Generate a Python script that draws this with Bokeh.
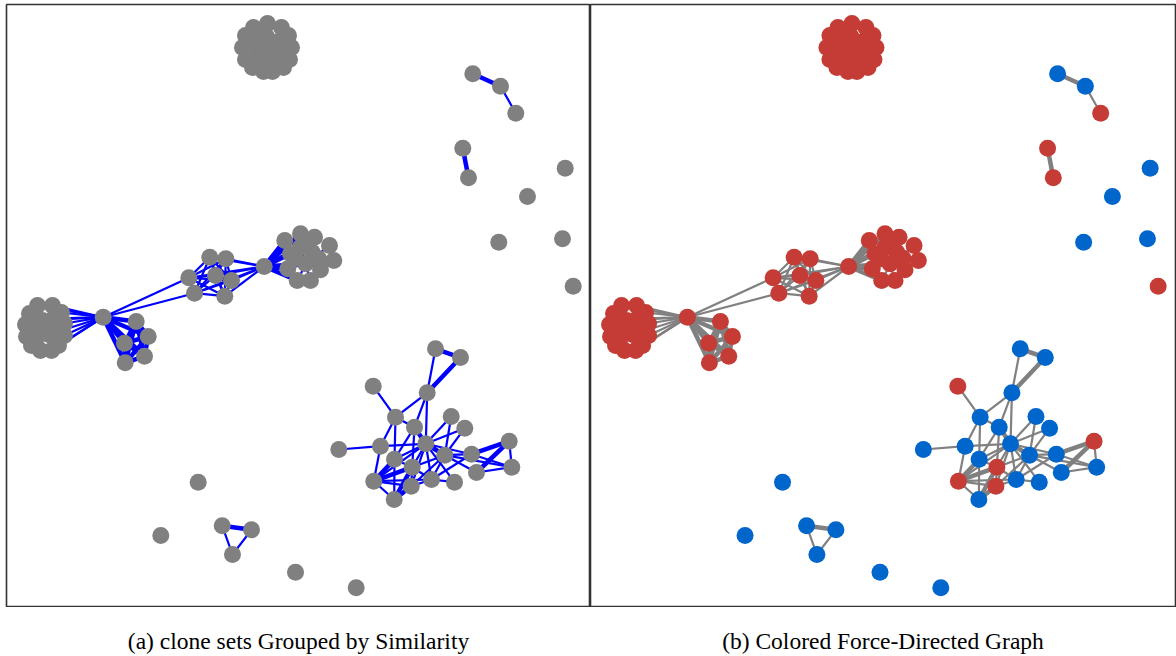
from bokeh.plotting import figure
from bokeh.models import ColumnDataSource, Range1d
from bokeh.layouts import row, column
from bokeh.embed import file_html
from bokeh.resources import INLINE

# ---------------- data ----------------
# node positions (left-panel pixel coordinates)
top_names = ["t%d" % i for i in range(24)]
top_x = [267, 253, 281, 245, 288, 242, 291, 245, 289, 252, 263, 272, 283, 266, 257, 276,
         258, 274, 266, 266, 255, 278, 252, 280]
top_y = [23, 27, 27, 35, 35, 47, 47, 59, 59, 67, 71, 71, 67, 46, 41, 52,
         50, 42, 58, 36, 57, 60, 40, 40]
top_cls = ["red"] * 24

left_names = ["l%d" % i for i in range(21)]
left_x = [37, 52, 29, 61, 25, 64, 26, 64, 31, 58, 40, 51, 42, 48, 37, 53,
          45, 35, 55, 33, 56]
left_y = [305, 305, 313, 312, 324, 323, 336, 335, 345, 345, 350, 350, 320, 334, 331, 318,
          327, 340, 340, 318, 326]
left_cls = ["red"] * 21

hub_names = ["h1", "h2"]
hub_x = [102.7, 263.7]
hub_y = [316.7, 266]
hub_cls = ["red", "red"]

small_names = ["s0", "s1", "s2", "s3", "s4"]
small_x = [135.7, 147.7, 124, 144, 124.7]
small_y = [321, 336, 342.7, 355.7, 362.3]
small_cls = ["red"] * 5

mid_names = ["m0", "m1", "m2", "m3", "m4", "m5", "m6"]
mid_x = [209.3, 225.3, 188.3, 215, 231, 194, 224.3]
mid_y = [256.7, 258.3, 277.3, 275, 280, 292.7, 295.7]
mid_cls = ["red"] * 7

right_names = ["r%d" % i for i in range(16)]
right_x = [284.3, 300, 314, 329, 333.3, 320, 310, 296.7, 287.3, 300, 311.7, 305, 290,
           295, 318, 305]
right_y = [240, 233.3, 236.7, 245, 260, 269.3, 280, 280, 268.3, 246.7, 251.7, 263.3, 253.3,
           258, 258, 240]
right_cls = ["red"] * 16

misc_names = ["p0", "p1", "p2", "q0", "q1", "u0", "u1", "u2", "u3", "u4",
              "u5", "u6", "u7", "u8", "v0", "v1", "v2"]
misc_x = [472.3, 500, 515.3, 462.3, 468, 564.7, 527, 498.3, 562, 572.7,
          197.7, 160.3, 295, 355.7, 221.7, 251, 232]
misc_y = [73.3, 85.7, 112.7, 147.7, 177.3, 167.7, 196, 241.7, 238.3, 285.7,
          481.7, 535, 571.7, 587.3, 525.3, 529.3, 554]
misc_cls = ["blue", "blue", "red", "red", "red", "blue", "blue", "blue", "blue", "red",
            "blue", "blue", "blue", "blue", "blue", "blue", "blue"]

net_names = list("ABCDEFGHIJKLMNOPQRSTUVW")
net_x = [435, 460, 372.7, 426.7, 395, 450.7, 414, 464.3, 338.3, 380, 425.3, 508.7,
         394, 444.3, 471, 411.7, 511.3, 476, 373.3, 431, 454, 410.7, 393.7]
net_y = [348.3, 357, 385.7, 392.3, 416.7, 416, 426.7, 427.7, 449, 445.7, 443.3, 440.7,
         458.7, 454.7, 453.7, 466.7, 466.7, 472, 480.7, 479, 481.7, 485.7, 499]
net_cls = ["blue", "blue", "red", "blue", "blue", "blue", "blue", "blue", "blue", "blue",
           "blue", "red", "blue", "blue", "blue", "red", "blue", "blue", "red", "blue",
           "blue", "red", "blue"]

# edges: "a-b" pairs with a weight
thin_edges = [
    # left cluster and its hub
    "l12-l13", "l14-l13", "l12-l14", "l15-l13", "l2-l13", "l6-l12", "l12-l4",
    "h1-l0", "h1-l1", "h1-l3", "h1-l5", "h1-l7", "h1-l9", "h1-l11", "h1-l15",
    "h1-l13", "h1-l12",
    "h1-m2", "h1-m5",
    # middle cluster
    "m0-m1", "m0-m2", "m0-m3", "m0-m4", "m0-m5", "m0-m6", "m1-m2", "m1-m3", "m1-m4",
    "m1-m5", "m1-m6", "m2-m3", "m2-m4", "m2-m5", "m2-m6", "m3-m4", "m3-m5", "m3-m6",
    "m4-m5", "m4-m6", "m5-m6",
    "h2-m0", "h2-m1", "h2-m2", "h2-m3", "h2-m4", "h2-m5", "h2-m6",
    # right cluster
    "r0-r9", "r9-r10", "r10-r11", "r11-r8", "r8-r12", "r12-r0", "r1-r10", "r2-r11",
    "r3-r11", "r4-r10", "r5-r12", "r6-r9", "r7-r10",
    # misc
    "p1-p2", "v0-v2", "v1-v2",
    # bottom-right network
    "A-D", "C-E", "D-E", "D-G", "D-K", "E-J", "E-M", "G-M", "G-P", "F-K", "F-N",
    "H-K", "H-N", "J-I", "J-K", "J-S", "K-M", "K-O", "K-P", "K-T", "K-U", "K-V",
    "K-S", "N-O", "O-Q", "L-Q", "R-Q", "N-Q", "S-V", "S-W", "S-T", "M-P", "M-W",
    "P-V", "P-T", "P-N", "V-T", "V-N", "T-U", "T-N", "N-R", "T-O", "E-G",
]
thick_edges = [
    "h1-s0", "h1-s1", "h1-s2", "h1-s3", "h1-s4",
    "s0-s1", "s0-s2", "s0-s3", "s0-s4", "s1-s2", "s1-s3", "s1-s4", "s2-s3",
    "s2-s4", "s3-s4",
    "h2-r0", "h2-r1", "h2-r8", "h2-r12", "h2-r9", "h2-r11", "h2-r7",
    "p0-p1", "q0-q1", "v0-v1",
    "A-B", "B-D", "G-K", "K-N", "O-L", "L-R", "S-M", "S-P", "V-W", "W-P",
]

captions = ["(a) clone sets Grouped by Similarity", "(b) Colored Force-Directed Graph"]

# ---------------- build sources ----------------
names = top_names + left_names + hub_names + small_names + mid_names + right_names + misc_names + net_names
xs = top_x + left_x + hub_x + small_x + mid_x + right_x + misc_x + net_x
ys = top_y + left_y + hub_y + small_y + mid_y + right_y + misc_y + net_y
cls = top_cls + left_cls + hub_cls + small_cls + mid_cls + right_cls + misc_cls + net_cls
pos = {n: (x, y) for n, x, y in zip(names, xs, ys)}

RED = "#c43c35"
BLUE = "#0066cc"
GRAY = "#808080"

x0, y0, x1, y1, w = [], [], [], [], []
for lst, wt in ((thin_edges, 2.2), (thick_edges, 4.5)):
    for e in lst:
        a, b = e.split("-")
        x0.append(pos[a][0]); y0.append(pos[a][1])
        x1.append(pos[b][0]); y1.append(pos[b][1])
        w.append(wt)

edge_src = ColumnDataSource(dict(x0=x0, y0=y0, x1=x1, y1=y1, w=w))
node_src = ColumnDataSource(dict(
    x=xs, y=ys,
    gray=[GRAY] * len(xs),
    col=[RED if c == "red" else BLUE for c in cls],
))


def bare(p):
    p.axis.visible = False
    p.grid.visible = False
    p.background_fill_color = "white"
    p.border_fill_color = "white"


def panel(edge_color, node_field, left_border, right_border, width):
    p = figure(width=width, height=607, output_backend="svg", toolbar_location=None,
               x_range=Range1d(6, 590), y_range=Range1d(606, 4),
               min_border_left=left_border, min_border_right=right_border,
               min_border_top=4, min_border_bottom=1)
    bare(p)
    p.outline_line_color = "#333333"
    p.outline_line_width = 1.6
    p.segment("x0", "y0", "x1", "y1", source=edge_src, line_color=edge_color,
              line_width="w")
    p.scatter("x", "y", source=node_src, size=17, fill_color=node_field,
              line_color=None)
    return p


def caption_fig(text, width, left_border, right_border):
    c = figure(width=width, height=49, output_backend="svg", toolbar_location=None,
               x_range=Range1d(6, 590), y_range=Range1d(656, 607),
               min_border_left=left_border, min_border_right=right_border,
               min_border_top=0, min_border_bottom=0)
    bare(c)
    c.outline_line_color = None
    src = ColumnDataSource(dict(x=[298], y=[640], t=[text]))
    c.text("x", "y", text="t", source=src, text_align="center", text_baseline="middle",
           text_font={"value": "Liberation Serif"}, text_font_size="23.5px",
           text_color="black")
    return c


p1 = panel("#0000ff", "gray", 6, 0, 590)
p2 = panel(GRAY, "col", 0, 1, 586)
c1 = caption_fig(captions[0], 590, 6, 0)
c2 = caption_fig(captions[1], 586, 0, 1)

layout = column(row(p1, p2, spacing=0), row(c1, c2, spacing=0), spacing=0)
open("out.html", "w").write(file_html(layout, INLINE))
